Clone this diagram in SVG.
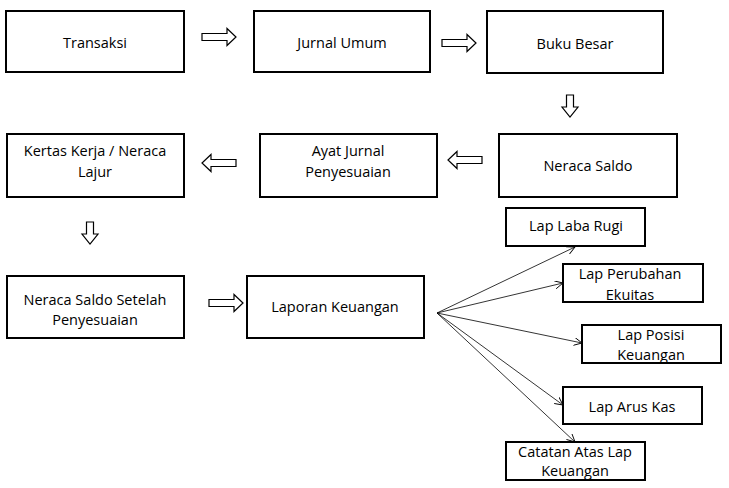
<svg xmlns="http://www.w3.org/2000/svg" width="729" height="488" viewBox="0 0 729 488">
<defs>
<style>
.box{fill:#fff;stroke:#000;stroke-width:2}
.t{font-family:"Open Sans","Noto Sans",sans-serif;font-size:14.5px;fill:#000;text-anchor:middle}
.blk{fill:#fff;stroke:#000;stroke-width:1.2;stroke-linejoin:miter}
.ln{fill:none;stroke:#000;stroke-width:0.8}
</style>
<marker id="oa" markerWidth="10" markerHeight="10" refX="8" refY="4" orient="auto" markerUnits="userSpaceOnUse">
<path d="M0,0 L8,4 L0,8" fill="none" stroke="#000" stroke-width="0.9"/>
</marker>
<path id="ra" d="M0,-3.5 L25,-3.5 L25,-8.5 L34,0 L25,8.5 L25,3.5 L0,3.5 Z"/>
<path id="da" d="M-3.5,0 L-3.5,12 L-8,12 L0,22 L8,12 L3.5,12 L3.5,0 Z"/>
</defs>
<rect width="729" height="488" fill="#fff"/>

<g id="connectors">
<use href="#ra" class="blk" transform="translate(202,37)"/>
<use href="#ra" class="blk" transform="translate(442,43)"/>
<use href="#da" class="blk" transform="translate(570,95)"/>
<use href="#ra" class="blk" transform="translate(482,160) scale(-1,1)"/>
<use href="#ra" class="blk" transform="translate(236,163) scale(-1,1)"/>
<use href="#da" class="blk" transform="translate(90,222)"/>
<use href="#ra" class="blk" transform="translate(209,303)"/>
<line class="ln" x1="437" y1="313" x2="575" y2="247" marker-end="url(#oa)"/>
<line class="ln" x1="437" y1="313" x2="563" y2="283" marker-end="url(#oa)"/>
<line class="ln" x1="437" y1="313" x2="582" y2="343" marker-end="url(#oa)"/>
<line class="ln" x1="437" y1="313" x2="563" y2="405" marker-end="url(#oa)"/>
<line class="ln" x1="437" y1="313" x2="575" y2="442" marker-end="url(#oa)"/>
</g>

<g id="transaksi"><rect class="box" x="6" y="11" width="178" height="61"/><text class="t" x="95" y="48">Transaksi</text></g>
<g id="jurnal-umum"><rect class="box" x="254" y="11" width="176" height="61"/><text class="t" x="342" y="48">Jurnal Umum</text></g>
<g id="buku-besar"><rect class="box" x="487" y="11" width="176" height="62"/><text class="t" x="575" y="49">Buku Besar</text></g>

<g id="neraca-saldo"><rect class="box" x="499" y="134" width="178" height="63"/><text class="t" x="588" y="171">Neraca Saldo</text></g>
<g id="ayat-jurnal"><rect class="box" x="260" y="134" width="177" height="63"/><text class="t" x="348" y="156">Ayat Jurnal</text><text class="t" x="348" y="177">Penyesuaian</text></g>
<g id="kertas-kerja"><rect class="box" x="7" y="134" width="177" height="63"/><text class="t" x="95" y="156">Kertas Kerja / Neraca</text><text class="t" x="95" y="177">Lajur</text></g>

<g id="neraca-saldo-setelah"><rect class="box" x="7" y="276" width="177" height="62"/><text class="t" x="95" y="305">Neraca Saldo Setelah</text><text class="t" x="95" y="325">Penyesuaian</text></g>
<g id="laporan-keuangan"><rect class="box" x="247" y="276" width="177" height="62"/><text class="t" x="335" y="312">Laporan Keuangan</text></g>

<g id="lap-laba-rugi"><rect class="box" x="506" y="208" width="139" height="38"/><text class="t" x="576" y="231">Lap Laba Rugi</text></g>
<g id="lap-perubahan-ekuitas"><rect class="box" x="563" y="264" width="140" height="38"/><text class="t" x="630" y="279">Lap Perubahan</text><text class="t" x="630" y="300">Ekuitas</text></g>
<g id="lap-posisi-keuangan"><rect class="box" x="582" y="325" width="139" height="38"/><text class="t" x="651" y="340">Lap Posisi</text><text class="t" x="651" y="360">Keuangan</text></g>
<g id="lap-arus-kas"><rect class="box" x="563" y="387" width="139" height="37"/><text class="t" x="632" y="412">Lap Arus Kas</text></g>
<g id="catatan"><rect class="box" x="506" y="442" width="139" height="38"/><text class="t" x="575" y="457">Catatan Atas Lap</text><text class="t" x="575" y="476">Keuangan</text></g>
</svg>
